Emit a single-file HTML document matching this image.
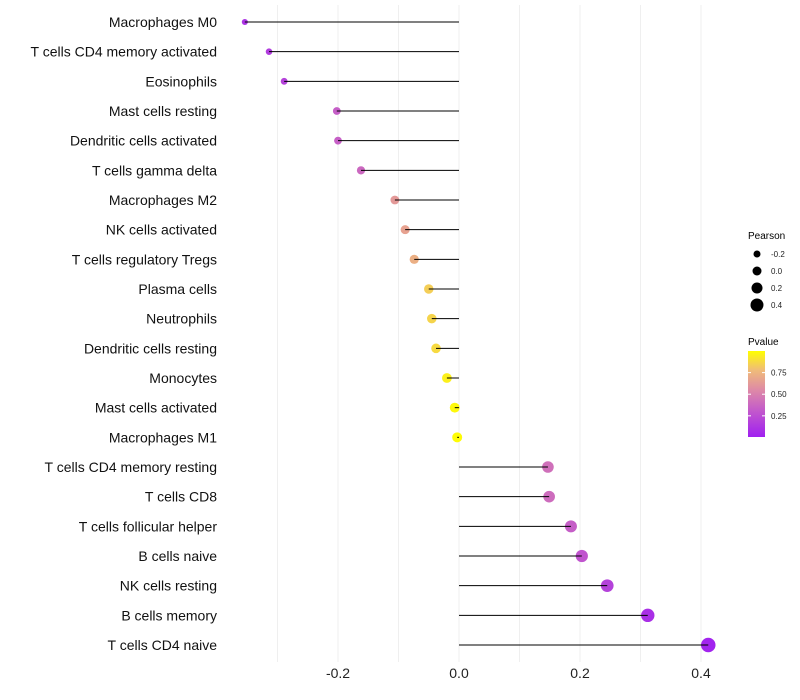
<!DOCTYPE html>
<html><head><meta charset="utf-8"><style>
body{margin:0;background:#fff;font-family:"Liberation Sans",sans-serif}
svg{display:block}
</style></head><body>
<svg id="chart" width="800" height="700" xmlns="http://www.w3.org/2000/svg">
<defs><linearGradient id="pg" x1="0" y1="1" x2="0" y2="0">
<stop offset="0" stop-color="#A020F0"/><stop offset="0.3" stop-color="#C258CC"/><stop offset="0.55" stop-color="#DE8AA6"/><stop offset="0.78" stop-color="#F0BC78"/><stop offset="1" stop-color="#FFFF00"/></linearGradient></defs>
<g id="grid"></g>
<g id="points"></g>
<g id="marks"></g>
<g id="ylabels"></g>
<g id="xlabels"></g>
<g>
<text x="748" y="239" font-size="10">Pearson</text>
<g id="sizeLegend"></g>
</g>
<g>
<text x="748" y="345" font-size="10">Pvalue</text>
<rect x="748" y="351" width="17" height="86" fill="url(#pg)"/>
<g id="cbTicks"></g>
</g>
</svg>
<script>
const categories=["Macrophages M0","T cells CD4 memory activated","Eosinophils","Mast cells resting","Dendritic cells activated","T cells gamma delta","Macrophages M2","NK cells activated","T cells regulatory  Tregs ","Plasma cells","Neutrophils","Dendritic cells resting","Monocytes","Mast cells activated","Macrophages M1","T cells CD4 memory resting","T cells CD8","T cells follicular helper","B cells naive","NK cells resting","B cells memory","T cells CD4 naive"];
const pearson=[-0.354,-0.314,-0.289,-0.202,-0.200,-0.162,-0.106,-0.089,-0.074,-0.050,-0.045,-0.038,-0.020,-0.007,-0.003,0.147,0.149,0.185,0.203,0.245,0.312,0.412];
const pvalue=[0.10,0.15,0.18,0.33,0.34,0.38,0.62,0.66,0.72,0.84,0.86,0.88,0.95,0.98,0.99,0.42,0.40,0.33,0.28,0.18,0.08,0.02];
const xTicks=[-0.2,0.0,0.2,0.4];
const xGrid=[-0.3,-0.2,-0.1,0,0.1,0.2,0.3,0.4];
const sizeLegendVals=[-0.2,0.0,0.2,0.4];
const cbTickVals=[0.25,0.50,0.75];
const NS="http://www.w3.org/2000/svg";
const X=v=>459+v*605;
const Y=i=>22+i*(623/21);
const R=v=>Math.max(2,5+v*5.5);
const CB=p=>437-(p-0.005)*(86/0.995);
const stops=[[0,[160,32,240]],[0.3,[194,88,204]],[0.55,[222,138,166]],[0.78,[240,188,120]],[1,[255,255,0]]];
function col(p){for(let k=1;k<stops.length;k++){if(p<=stops[k][0]){const a=stops[k-1],b=stops[k],t=(p-a[0])/(b[0]-a[0]);return `rgb(${a[1].map((c,j)=>Math.round(c+(b[1][j]-c)*t)).join(',')})`;}}return 'rgb(255,255,0)';}
function mk(tag,attrs,parent){const e=document.createElementNS(NS,tag);for(const k in attrs)e.setAttribute(k,attrs[k]);parent.appendChild(e);return e;}
const g=document.getElementById('grid'),m=document.getElementById('marks'),pts=document.getElementById('points'),yl=document.getElementById('ylabels'),xl=document.getElementById('xlabels');
xGrid.forEach(v=>{const l=mk('line',{x1:X(v),x2:X(v),y1:5,y2:662,stroke:'#efefef','stroke-width':1},g);

});
xTicks.forEach(v=>{const t=mk('text',{x:X(v),y:678,'font-size':14,'text-anchor':'middle',fill:'#222'},xl);t.textContent=v.toFixed(1);

});
categories.forEach((c,i)=>{const y=Y(i);
const t=mk('text',{x:217,y:y+5,'font-size':14,'text-anchor':'end',fill:'#111','xml:space':'preserve'},yl);t.textContent=c;


const p=mk('circle',{cx:X(pearson[i]),cy:y,r:R(pearson[i]),fill:col(pvalue[i])},pts);


const l=mk('line',{x1:X(0),x2:X(pearson[i]),y1:y,y2:y,stroke:'#000','stroke-width':1},m);

});
const sl=document.getElementById('sizeLegend');
sizeLegendVals.forEach((v,i)=>{const y=254+i*17;
const c=mk('circle',{cx:757,cy:y,r:3.5+i,fill:'#000'},sl);


const t=mk('text',{x:771,y:y+3,'font-size':8,fill:'#222'},sl);t.textContent=v.toFixed(1);

});
const cb=document.getElementById('cbTicks');
cbTickVals.forEach(v=>{const y=CB(v);
mk('line',{x1:748,x2:751,y1:y,y2:y,stroke:'#fff'},cb);mk('line',{x1:762,x2:765,y1:y,y2:y,stroke:'#fff'},cb);
const t=mk('text',{x:771,y:y+3,'font-size':8,fill:'#222'},cb);t.textContent=v.toFixed(2);

});
</script>
</body></html>
